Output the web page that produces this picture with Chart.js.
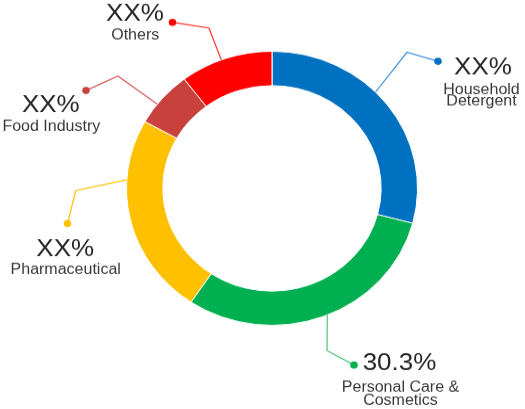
<!DOCTYPE html>
<html><head><meta charset="utf-8">
<script src="https://cdn.jsdelivr.net/npm/chart.js@4/dist/chart.umd.min.js"></script>
<style>
html,body{margin:0;padding:0;background:#fff;overflow:hidden;width:525px;height:409px}
#c{display:block;transform:scaleY(0.9416);transform-origin:0 0}
</style>
</head><body>
<canvas id="c" width="525" height="434"></canvas>
<script>
const categories = ['Household Detergent','Personal Care & Cosmetics','Pharmaceutical','Food Industry','Others'];
const shares = [29.1, 30.3, 23.7, 6.6, 10.3];
const valueLabels = ['XX%','30.3%','XX%','XX%','XX%'];
const nameLines = [['Household','Detergent'],['Personal Care &','Cosmetics'],['Pharmaceutical'],['Food Industry'],['Others']];

const colors = ['#0070C0','#00B050','#FFC000','#C8413D','#FF0000'];
const lineColors = ['#3A8FD8','#4CC37A','#FFC000','#D65A55','#FF2A2A'];
const SQ = 0.9416;
// callout layout (final picture px): fraction along arc, elbow, dot, value text, name text
const callouts = [
  {f:0.433, elbow:[407,52.3], dot:[438,61.3], value:[483,74], name:[481.5,94.3], lh:11.4},
  {f:0.485, elbow:[327,350.5], dot:[354,365], value:[399.5,370.5], name:[400.5,391.7], lh:13.3},
  {f:0.70, elbow:[75.7,190.7], dot:[67.5,223.5], value:[65.2,256], name:[65.7,274], lh:13},
  {f:0.37, elbow:[118,76], dot:[86,90.5], value:[50.8,112], name:[51.3,130.7], lh:13},
  {f:0.45, elbow:[209,28], dot:[172.5,22.3], value:[135,20.7], name:[135.2,39.3], lh:13}
];

const calloutPlugin = {
  id:'callouts',
  afterDraw(chart){
    const ctx = chart.ctx;
    const meta = chart.getDatasetMeta(0);
    meta.data.forEach((arc,i)=>{
      const c = callouts[i];
      const p = arc.getProps(['x','y','startAngle','endAngle','outerRadius'], true);
      const a = p.startAngle + (p.endAngle - p.startAngle) * c.f;
      const sx = p.x + Math.cos(a) * p.outerRadius;
      const sy = p.y + Math.sin(a) * p.outerRadius;
      ctx.save();
      ctx.strokeStyle = lineColors[i];
      ctx.lineWidth = 1.2;
      ctx.beginPath();
      ctx.moveTo(sx, sy);
      ctx.lineTo(c.elbow[0], c.elbow[1]/SQ);
      ctx.lineTo(c.dot[0], c.dot[1]/SQ);
      ctx.stroke();
      ctx.fillStyle = colors[i];
      ctx.beginPath();
      ctx.arc(c.dot[0], c.dot[1]/SQ, 3.8, 0, Math.PI*2);
      ctx.fill();
      ctx.textAlign = 'center';
      ctx.textBaseline = 'alphabetic';
      ctx.fillStyle = '#262626';
      ctx.font = '26px "Liberation Sans", Arial, sans-serif';
      ctx.fillText(valueLabels[i], c.value[0], c.value[1]/SQ);
      ctx.fillStyle = '#383838';
      ctx.font = '16px "Liberation Sans", Arial, sans-serif';
      nameLines[i].forEach((t,k)=>{
        ctx.fillText(t, c.name[0], (c.name[1] + k*c.lh)/SQ);
      });
      ctx.restore();
    });
  }
};

new Chart(document.getElementById('c'), {
  type:'doughnut',
  data:{
    labels: categories,
    datasets:[{
      data: shares,
      backgroundColor: colors,
      borderColor:'#ffffff',
      borderWidth:1,
      hoverBorderWidth:1,
      hoverOffset:0
    }]
  },
  options:{
    responsive:false,
    animation:false,
    devicePixelRatio:1,
    cutout:'75%',
    rotation:0,
    layout:{padding:{left:126,right:107,top:54,bottom:88}},
    plugins:{legend:{display:false}, tooltip:{enabled:false}}
  },
  plugins:[calloutPlugin]
});
</script>
</body></html>
